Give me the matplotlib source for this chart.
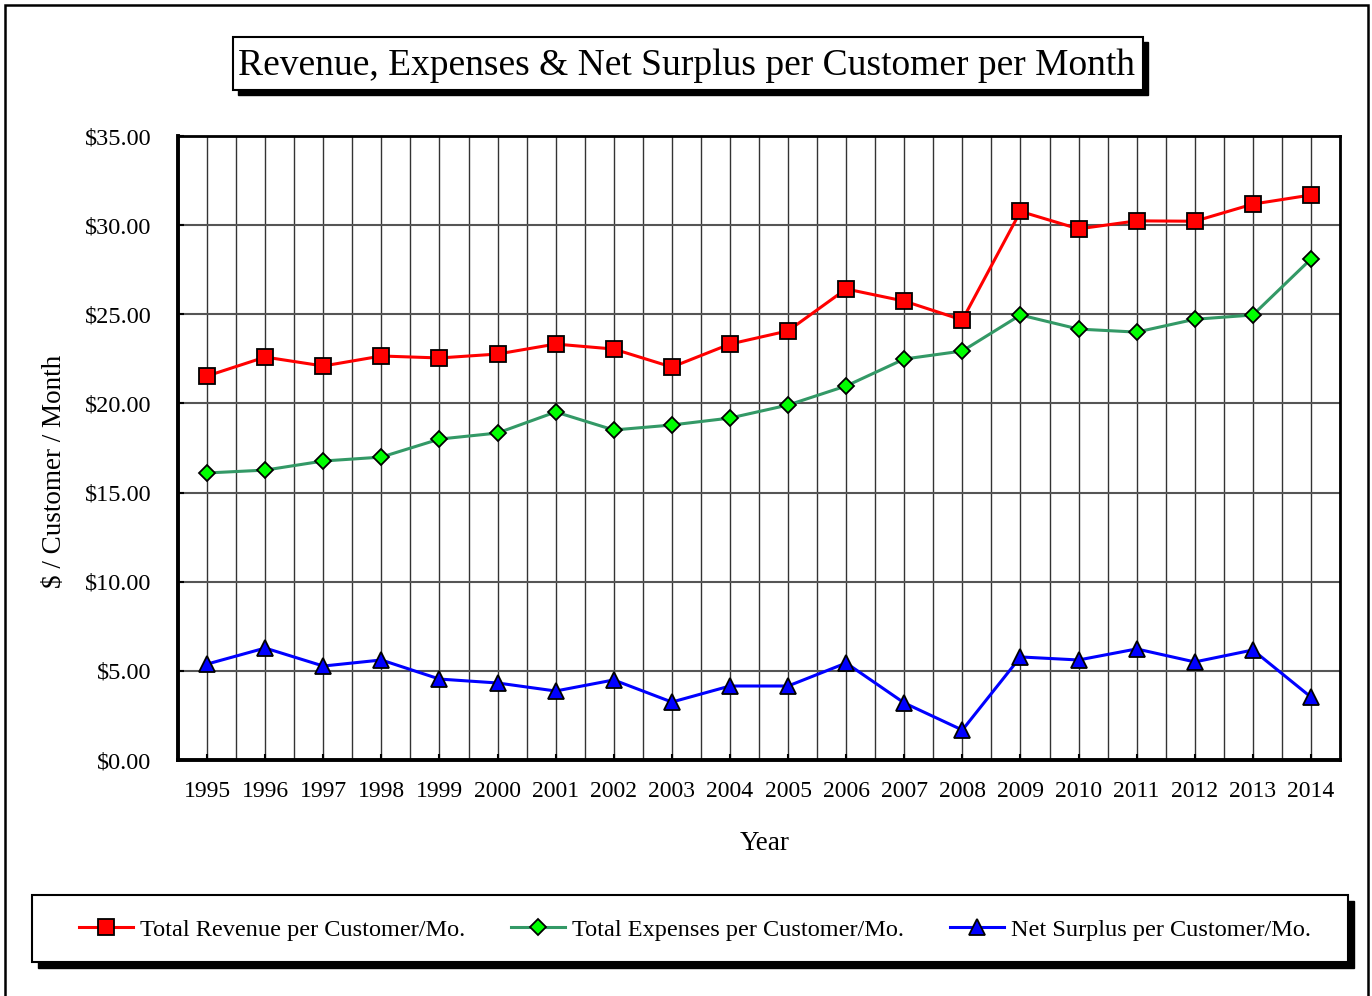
import numpy as np
import matplotlib
matplotlib.use('Agg')
from matplotlib import pyplot as plt
from matplotlib.patches import Rectangle

plt.rcParams['font.family'] = ['Liberation Serif', 'DejaVu Serif']

# 数据
years = list(range(1995, 2015))
revenue = [21.54, 22.60, 22.10, 22.66, 22.55, 22.77, 23.33, 23.05, 22.04, 23.33,
           24.07, 26.42, 25.74, 24.68, 30.77, 29.79, 30.24, 30.22, 31.18, 31.69]
expenses = [16.10, 16.26, 16.77, 16.99, 18.00, 18.34, 19.52, 18.51, 18.79, 19.18,
            19.91, 20.98, 22.49, 22.94, 24.96, 24.17, 24.00, 24.72, 24.96, 28.10]
surplus = [5.38, 6.28, 5.27, 5.61, 4.54, 4.32, 3.87, 4.49, 3.25, 4.15,
           4.15, 5.44, 3.20, 1.68, 5.78, 5.61, 6.23, 5.50, 6.17, 3.53]
yticks = [0, 5, 10, 15, 20, 25, 30, 35]
names = ['Total Revenue per Customer/Mo.', 'Total Expenses per Customer/Mo.',
         'Net Surplus per Customer/Mo.']

W, H = 1372, 996
fig = plt.figure(figsize=(W / 100, H / 100), dpi=100)

def px(x, y):
    # 像素坐标 -> figure 坐标
    return x / W, 1 - y / H

def box(x0, y0, x1, y1, shadow=0, lw=1.5, fc='white'):
    if shadow:
        fx, fy = px(x0 + shadow, y1 + shadow)
        fig.patches.append(Rectangle((fx, fy), (x1 - x0) / W, (y1 - y0) / H,
                                     transform=fig.transFigure, facecolor='black',
                                     edgecolor='black', zorder=1))
    fx, fy = px(x0, y1)
    fig.patches.append(Rectangle((fx, fy), (x1 - x0) / W, (y1 - y0) / H,
                                 transform=fig.transFigure, facecolor=fc,
                                 edgecolor='black', lw=lw, zorder=2))

# 外框
box(5, 5, 1368, 1010, lw=1.8, fc='none')

l, b = px(178, 760)
r, t = px(1340, 136)
ax = fig.add_axes([l, b, r - l, t - b])
ax.set_zorder(5)

ax.plot(years, revenue, color='#FF0000', lw=2.2, marker='s', ms=11,
        mfc='#FF0000', mec='black', mew=1.3, label=names[0], zorder=4)
ax.plot(years, expenses, color='#339966', lw=2.2, marker='D', ms=8.5,
        mfc='#00FF00', mec='black', mew=1.3, label=names[1], zorder=4)
ax.plot(years, surplus, color='#0000FF', lw=2.2, marker='^', ms=11.5,
        mfc='#0000FF', mec='black', mew=1.3, label=names[2], zorder=4)

ax.set_xlim(years[0] - 0.5, years[-1] + 0.5)
ax.set_ylim(0, 35)
ax.set_xticks(years)
ax.set_xticklabels([str(y) for y in years], fontsize=17)
ax.set_yticks(yticks)
ax.set_yticklabels(['$%.2f' % v for v in yticks], fontsize=17.5)
ax.set_xticks(np.arange(years[0] - 0.5, years[-1] + 0.6, 1), minor=True)
ax.tick_params(axis='both', direction='in', length=4, width=1.5)
ax.tick_params(axis='x', pad=15)
ax.tick_params(axis='y', pad=19)
ax.tick_params(axis='x', which='minor', length=0)
ax.grid(True, axis='x', which='both', color='#333333', lw=1)
ax.grid(True, axis='y', which='major', color='#555555', lw=1.5)
ax.set_axisbelow(True)
for side in ['left', 'bottom']:
    ax.spines[side].set_linewidth(2.8)
for side in ['top', 'right']:
    ax.spines[side].set_linewidth(2.0)

fx, fy = px(55, 471)
fig.text(fx, fy, '$ / Customer / Month', rotation=90, fontsize=19.5,
         ha='center', va='center')
fx, fy = px(765, 843)
fig.text(fx, fy, 'Year', fontsize=19.5, ha='center', va='center')

# 标题
box(233, 37, 1143, 90, shadow=5)
fx, fy = px(687, 66)
fig.text(fx, fy, 'Revenue, Expenses & Net Surplus per Customer per Month',
         fontsize=27, ha='center', va='center', zorder=3)

# 图例
box(32, 895, 1348, 962, shadow=6)
h, lab = ax.get_legend_handles_labels()
fx, fy = px(695, 930)
fig.legend(h, lab, loc='center', bbox_to_anchor=(fx, fy), ncol=3, frameon=False,
           fontsize=17.5, handlelength=2.2, columnspacing=1.9, handletextpad=0.3)
fig.legends[0].set_zorder(6)

plt.savefig('out.png', dpi=100)
